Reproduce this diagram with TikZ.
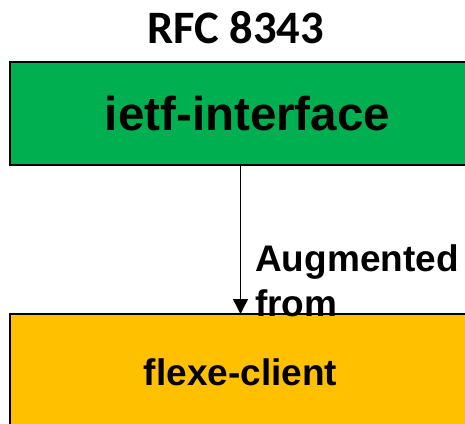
\documentclass[tikz,border=0pt]{standalone}
\usepackage{fontspec}
\setmainfont{Liberation Sans}
\newfontfamily\titlefont{Carlito}
\usetikzlibrary{arrows.meta,positioning}

\tikzset{
    modbox/.style={draw=black, line width=1.5pt, inner sep=0pt, font=\bfseries},
    augarrow/.style={line width=1.4pt, -{Triangle[width=15pt,length=15pt]}},
}

\begin{document}
\begin{tikzpicture}[x=1pt, y=-1pt]
    \useasboundingbox (0,0) rectangle (465,423);
    \clip (0,0) rectangle (465,423);

    % RFC title
    \node[anchor=base, font=\titlefont\bfseries\fontsize{46.5}{50}\selectfont] (rfc) at (235.5,43) {RFC 8343};

    % modules
    \node[modbox, fill={rgb,255:red,0;green,176;blue,80}, minimum width=475pt, minimum height=103pt,
          font=\bfseries\fontsize{47.5}{56}\selectfont] (ietf) at (247.5,113.5) {ietf-interface};
    \node[modbox, fill={rgb,255:red,255;green,192;blue,0}, minimum width=461pt, minimum height=116pt,
          font=\bfseries\fontsize{37}{45}\selectfont] (flexe) at (240.5,372) {flexe-client};

    % augment relation
    \coordinate (tip) at (240.5,314);
    \draw[augarrow] (tip |- ietf.south) -- (tip);
    \node[anchor=north west, inner sep=0pt, align=left,
          font=\bfseries\fontsize{37}{45}\selectfont] (aug) at (255,244) {Augmented\\from};
\end{tikzpicture}
\end{document}
